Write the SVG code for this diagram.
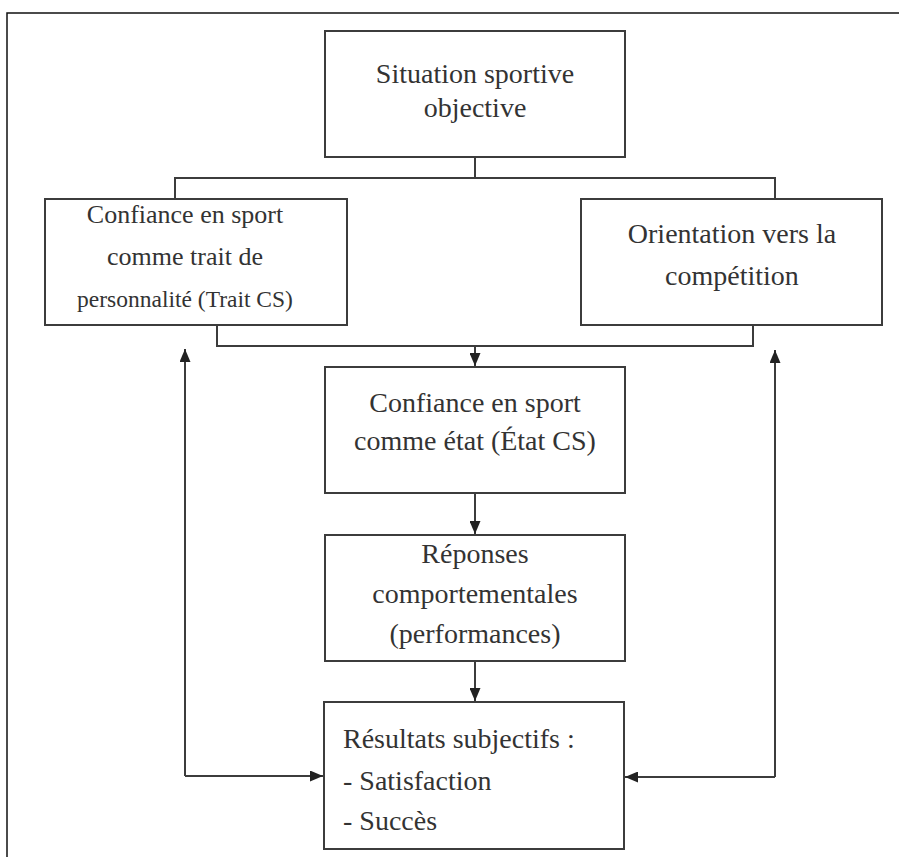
<svg xmlns="http://www.w3.org/2000/svg" width="899" height="857" viewBox="0 0 899 857">
<style>
.box{fill:#fff;stroke:#3c3c3c;stroke-width:2}
.t{font-family:'Liberation Serif','Times New Roman',Tinos,'DejaVu Serif',serif;font-size:28px;fill:#333}
.c{text-anchor:middle}
.s26{font-size:26px}
.s24{font-size:23.5px}
.ln{fill:none;stroke:#3c3c3c;stroke-width:2}
.frame{fill:none;stroke:#111;stroke-width:1.5}
</style>
<defs>
<marker id="ah" viewBox="0 0 13 11" refX="13" refY="5.5" markerWidth="13" markerHeight="11" markerUnits="userSpaceOnUse" orient="auto">
<path d="M0,0 L13,5.5 L0,11 z" fill="#222"/>
</marker>
</defs>
<rect width="899" height="857" fill="#fff"/>
<path class="frame" d="M7,857 V13 H899"/>
<g id="connectors">
<path class="ln" d="M475,157 V178 M175,199 V178 H775 V199"/>
<path class="ln" d="M217,325 V346 H753 V325"/>
<path class="ln" d="M475,346 V366" marker-end="url(#ah)"/>
<path class="ln" d="M475,493 V534" marker-end="url(#ah)"/>
<path class="ln" d="M475,661 V701" marker-end="url(#ah)"/>
<path class="ln" d="M185,776 V349" marker-end="url(#ah)"/>
<path class="ln" d="M185,776 H323" marker-end="url(#ah)"/>
<path class="ln" d="M775,777 V350" marker-end="url(#ah)"/>
<path class="ln" d="M775,777 H625" marker-end="url(#ah)"/>
</g>
<g id="situation">
<rect class="box" x="325" y="31" width="300" height="126"/>
<text class="t c" x="475" y="83">Situation sportive</text>
<text class="t c" x="475" y="117">objective</text>
</g>
<g id="trait">
<rect class="box" x="45" y="199" width="302" height="126"/>
<text class="t c s26" x="185" y="223">Confiance en sport</text>
<text class="t c s26" x="185" y="265">comme trait de</text>
<text class="t c s24" x="185" y="307">personnalité (Trait CS)</text>
</g>
<g id="orientation">
<rect class="box" x="581" y="199" width="301" height="126"/>
<text class="t c" x="732" y="243">Orientation vers la</text>
<text class="t c" x="732" y="285">compétition</text>
</g>
<g id="etat">
<rect class="box" x="325" y="367" width="300" height="126"/>
<text class="t c" x="475" y="412">Confiance en sport</text>
<text class="t c" x="475" y="450">comme état (État CS)</text>
</g>
<g id="reponses">
<rect class="box" x="325" y="535" width="300" height="126"/>
<text class="t c" x="475" y="563">Réponses</text>
<text class="t c" x="475" y="603">comportementales</text>
<text class="t c" x="475" y="643">(performances)</text>
</g>
<g id="resultats">
<rect class="box" x="324" y="702" width="300" height="147"/>
<text class="t" x="343" y="748">Résultats subjectifs :</text>
<text class="t" x="343" y="790">- Satisfaction</text>
<text class="t" x="343" y="830">- Succès</text>
</g>
</svg>
